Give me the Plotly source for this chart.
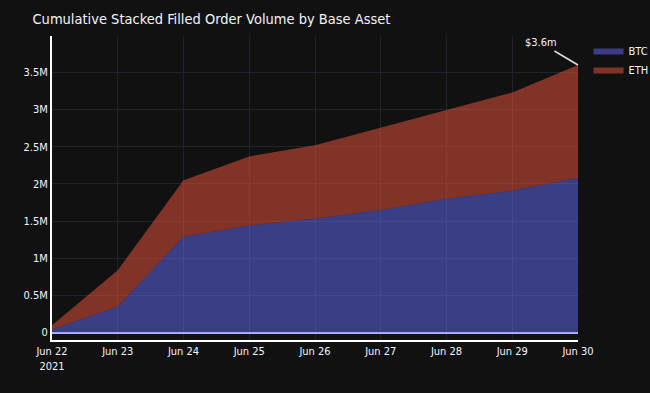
import plotly.graph_objects as go

dates = ["2021-06-22", "2021-06-23", "2021-06-24", "2021-06-25", "2021-06-26",
         "2021-06-27", "2021-06-28", "2021-06-29", "2021-06-30"]
btc = [40000, 350000, 1290000, 1440000, 1530000, 1650000, 1800000, 1910000, 2080000]
eth = [60000, 490000, 760000, 930000, 990000, 1110000, 1190000, 1320000, 1520000]
total_label = "$3.6m"

FONT = "DejaVu Sans Condensed, DejaVu Sans"

fig = go.Figure()
fig.add_trace(go.Scatter(x=dates, y=btc, name="BTC", stackgroup="one", mode="lines",
                         line=dict(width=0, color="#636efa")))
fig.add_trace(go.Scatter(x=dates, y=eth, name="ETH", stackgroup="one", mode="lines",
                         line=dict(width=0, color="#EF553B")))

total = [b + e for b, e in zip(btc, eth)]
fig.add_annotation(x=dates[-1], y=total[-1], text=total_label, showarrow=True,
                   arrowhead=0, arrowcolor="#dddddd", arrowwidth=1.5, ax=-37, ay=-22,
                   font=dict(size=11, color="#f2f5fa"))

fig.update_layout(
    template="plotly_dark",
    width=650, height=393,
    title=dict(text="Cumulative Stacked Filled Order Volume by Base Asset",
               font=dict(size=14.5, family=FONT), x=0.05, y=0.965),
    font=dict(family=FONT, size=11),
    margin=dict(l=52, r=72, t=36, b=53, autoexpand=False),
    legend=dict(font=dict(size=11), traceorder="normal", x=1.02, y=1),
)
fig.update_xaxes(showline=True, linecolor="white", linewidth=2, gridcolor="#1f242c",
                 range=[dates[0], dates[-1]], dtick=86400000, tickformat="%b %d\n%Y")
fig.update_yaxes(showline=True, linecolor="white", linewidth=2, gridcolor="#1f242c",
                 range=[-100000, 3990000], dtick=500000,
                 zeroline=True, zerolinecolor="#b1b6fc", zerolinewidth=2)
fig.write_html("out.html", config={"displayModeBar": False},
               post_script="document.body.style.margin='0';document.body.style.background='#111111';")
